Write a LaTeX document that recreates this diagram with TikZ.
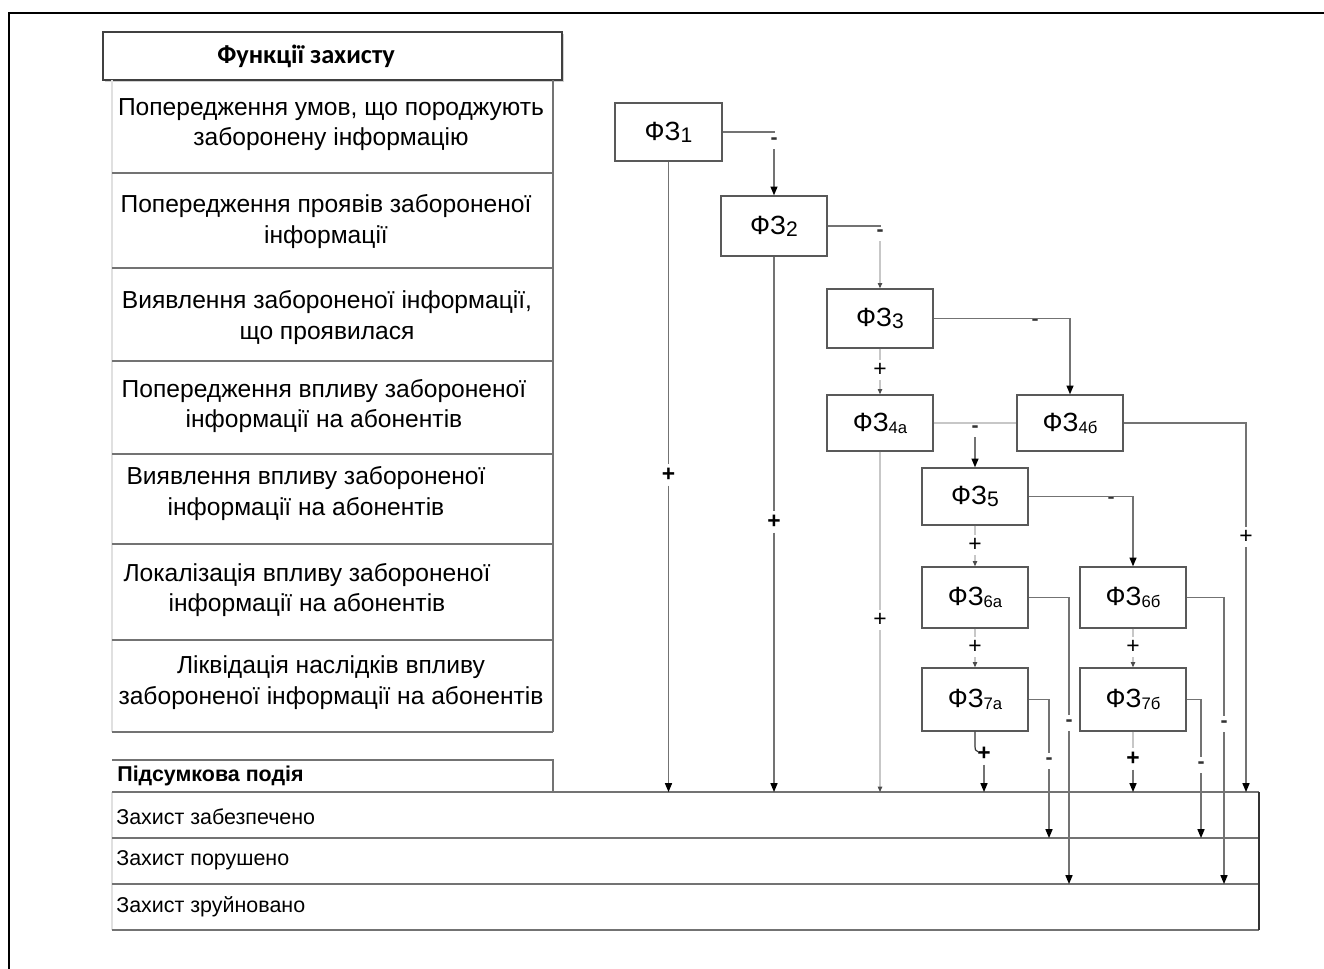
\documentclass[tikz,border=0pt]{standalone}
\usepackage{fontspec}
\setmainfont{Liberation Sans}
\newfontfamily\headfont{Carlito}
\usetikzlibrary{arrows.meta}
% function label: ФЗ with a lowered index
\newcommand{\fzname}[2][12]{ФЗ{\fontsize{#1}{#1}\selectfont\raisebox{-1.2pt}{#2}}}
\begin{document}
\begin{tikzpicture}[x=0.02cm,y=-0.02cm,
  fz/.style={draw=black!65, line width=0.8pt, fill=white, inner sep=0pt,
    minimum width=2.12cm, minimum height=1.18cm, font=\fontsize{15}{15}\selectfont},
  ln/.style={draw=black!55, line width=0.7pt},
  faint/.style={draw=black!22, line width=0.6pt},
  arr/.style={ln, -{Triangle[length=5pt,width=4pt,color=black]}},
  farr/.style={faint, -{Triangle[length=3pt,width=2.5pt,color=black!70]}},
  plus/.style={inner sep=2pt, font=\bfseries\fontsize{13}{13}\selectfont},
  minus/.style={inner sep=2.5pt, text=black!80, font=\bfseries\fontsize{12}{12}\selectfont},
  rowtext/.style={align=center, inner sep=0pt, font=\fontsize{14}{17.5}\selectfont},
  evtext/.style={anchor=west, inner sep=0pt, font=\fontsize{12.2}{12.2}\selectfont},
  tline/.style={draw=black!55, line width=1pt}
]
\clip (0,0) rectangle (1324,969);

% outer frame
\draw[line width=1.7pt] (9,1000) -- (9,13) -- (1400,13);

% ---- functions table ----
\fill[black!18] (105,34) rectangle (564,82);
\draw[draw=black!75, line width=0.8pt, fill=white] (103,32) rectangle (562,80);
\node[inner sep=0pt, font=\headfont\bfseries\fontsize{15}{15}\selectfont] (head) at (306,56) {Функції захисту};
\draw[black!12, line width=0.6pt] (112,80) -- (112,732);
\foreach \yy in {173,268,361,454,544,640,732}
  \draw[tline] (112,\yy) -- (553,\yy);
\draw[tline] (553,80) -- (553,732);

\node[rowtext] (r1) at (331,124.5) {Попередження умов, що породжують\\заборонену інформацію};
\node[rowtext] (r2) at (326,221.5) {Попередження проявів забороненої\\інформації};
\node[rowtext] (r3) at (327,317.5) {Виявлення забороненої інформації,\\що проявилася};
\node[rowtext] (r4) at (324,406) {Попередження впливу забороненої\\інформації на абонентів};
\node[rowtext] (r5) at (306,493.5) {Виявлення впливу забороненої\\інформації на абонентів};
\node[rowtext] (r6) at (307,590) {Локалізація впливу забороненої\\інформації на абонентів};
\node[rowtext] (r7) at (331,683) {Ліквідація наслідків впливу\\забороненої інформації на абонентів};

% ---- resulting events ----
\draw[tline] (112,760) -- (553,760) -- (553,792);
\node[evtext, font=\bfseries\fontsize{12.2}{12.2}\selectfont] (sum) at (117,776) {Підсумкова подія};
\draw[black!12, line width=0.6pt] (112,792) -- (112,930);
\foreach \yy in {792,838,884,930}
  \draw[tline] (112,\yy) -- (1259,\yy);
\draw[draw=black!80, line width=1pt] (1259,792) -- (1259,930);
\coordinate (ev1) at (112,792);
\coordinate (ev2) at (112,838);
\coordinate (ev3) at (112,884);
\node[evtext] (e1) at (116,817) {Захист забезпечено};
\node[evtext] (e2) at (116,860) {Захист порушено};
\node[evtext] (e3) at (116,907) {Захист зруйновано};

% ---- function blocks ----
\node[fz, minimum width=2.14cm, minimum height=1.16cm] (F1) at (668.5,132) {\fzname{1}};
\node[fz, minimum height=1.2cm] (F2) at (774,226) {\fzname{2}};
\node[fz] (F3) at (880,318.5) {\fzname{3}};
\node[fz, minimum height=1.12cm] (F4a) at (880,423) {\fzname[9.5]{4а}};
\node[fz, minimum height=1.12cm] (F4b) at (1070,423) {\fzname[9.5]{4б}};
\node[fz, minimum height=1.14cm] (F5) at (975,496.5) {\fzname{5}};
\node[fz, minimum height=1.22cm] (F6a) at (975,597.5) {\fzname[9.5]{6а}};
\node[fz, minimum height=1.22cm] (F6b) at (1133,597.5) {\fzname[9.5]{6б}};
\node[fz, minimum height=1.26cm] (F7a) at (975,699.5) {\fzname[9.5]{7а}};
\node[fz, minimum height=1.26cm] (F7b) at (1133,699.5) {\fzname[9.5]{7б}};

% ---- outcome marks ----
\node[minus] (m1) at (774,141) {-};
\node[minus] (m2) at (880,233) {-};
\node[plus] (p1) at (668.5,475) {+};
\node[plus] (p2) at (774,522) {+};
\node[plus, font=\fontsize{13}{13}\selectfont] (p3) at (880,370) {+};
\node[minus] (m3) at (1035,322) {-};
\node[minus] (m4) at (975,429) {-};
\node[plus, font=\fontsize{13}{13}\selectfont] (p4a) at (880,620) {+};
\node[plus, font=\fontsize{13}{13}\selectfont] (p4b) at (1246,537) {+};
\node[minus] (m5) at (1111,500) {-};
\node[plus, font=\fontsize{13}{13}\selectfont] (p5) at (975,545) {+};
\node[plus, font=\fontsize{13}{13}\selectfont] (p6a) at (975,647) {+};
\node[plus, font=\fontsize{13}{13}\selectfont] (p6b) at (1133,647) {+};
\node[minus] (m6a) at (1069,723) {-};
\node[minus] (m6b) at (1224,724) {-};
\node[minus] (m7a) at (1049,761) {-};
\node[minus] (m7b) at (1201,765) {-};
\node[plus] (p7a) at (984,754) {+};
\node[plus] (p7b) at (1133,759) {+};

% ---- connectors ----
\draw[ln] (F1.east) -| (m1.north);
\draw[arr] (m1.south) -- (F2.north);
\draw[ln] (F2.east) -| (m2.north);
\draw[farr] (m2.south) -- (F3.north);
\draw[ln] (F1.south) -- (p1.north);
\draw[arr] (p1.south) -- (p1.south |- ev1);
\draw[ln] (F2.south) -- (p2.north);
\draw[arr] (p2.south) -- (p2.south |- ev1);

\draw[arr] (F3.east) -| (F4b.north);
\draw[faint] (F3.south) -- (p3.north);
\draw[farr] (p3.south) -- (F4a.north);

\draw[faint] (F4a.east) -- (F4b.west);
\draw[arr] (m4.south) -- (F5.north);
\draw[faint] (F4a.south) -- (p4a.north);
\draw[farr] (p4a.south) -- (p4a.south |- ev1);
\draw[ln] (F4b.east) -| (p4b.north);
\draw[arr] (p4b.south) -- (p4b.south |- ev1);

\draw[arr] (F5.east) -| (F6b.north);
\draw[faint] (F5.south) -- (p5.north);
\draw[farr] (p5.south) -- (F6a.north);
\draw[faint] (F6a.south) -- (p6a.north);
\draw[farr] (p6a.south) -- (F7a.north);
\draw[faint] (F6b.south) -- (p6b.north);
\draw[farr] (p6b.south) -- (F7b.north);

\draw[ln] (F6a.east) -| (m6a.north);
\draw[arr] (m6a.south) -- (m6a.south |- ev3);
\draw[ln] (F6b.east) -| (m6b.north);
\draw[arr] (m6b.south) -- (m6b.south |- ev3);
\draw[ln] (F7a.east) -| (m7a.north);
\draw[arr] (m7a.south) -- (m7a.south |- ev2);
\draw[ln] (F7b.east) -| (m7b.north);
\draw[arr] (m7b.south) -- (m7b.south |- ev2);

\draw[ln, draw=black!80] (F7a.south) -- ++(0,15) .. controls ++(0,3) .. ++(3,5);
\draw[arr] (p7a.south) -- (p7a.south |- ev1);
\draw[faint] (F7b.south) -- (p7b.north);
\draw[arr] (p7b.south) -- (p7b.south |- ev1);
\end{tikzpicture}
\end{document}
